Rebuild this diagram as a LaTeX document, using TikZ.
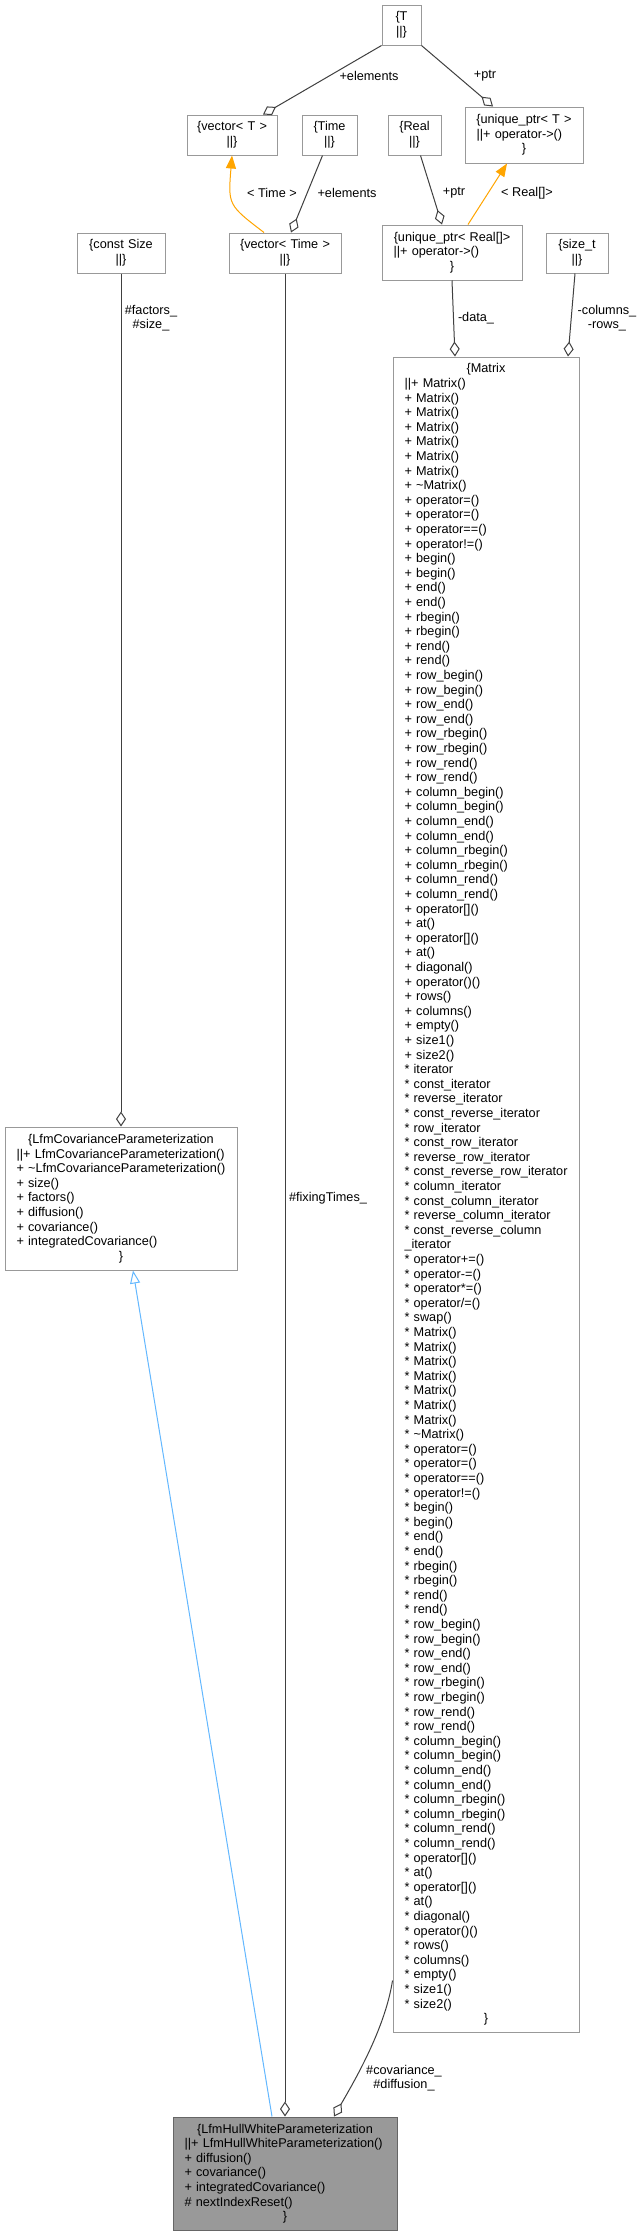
\documentclass[tikz,border=0pt]{standalone}
\usepackage{fontspec}
\setmainfont{Liberation Sans}
\usetikzlibrary{arrows.meta}

\definecolor{boxgray}{HTML}{999999}
\definecolor{edgegray}{HTML}{404040}
\definecolor{curfill}{HTML}{999999}
\definecolor{curborder}{HTML}{666666}
\definecolor{inhblue}{HTML}{63B8FF}
\definecolor{tmplorange}{HTML}{FFA500}

% one centred line, one left line of a class box
\newcommand{\cln}[1]{\makebox[\linewidth]{#1}\par}
\newcommand{\mln}[1]{\noindent\mbox{#1}\par}

\tikzset{
  classbox/.style={draw=boxgray, fill=white, line width=1pt, inner xsep=11.5pt, inner ysep=2pt, font=\fontsize{12.7pt}{14.6pt}\selectfont},
  curbox/.style={classbox, draw=curborder, fill=curfill},
  usage/.style={draw=edgegray, line width=1pt, -{Diamond[open, length=15pt, width=10pt]}},
  tmpl/.style={draw=tmplorange, line width=1pt, -{Triangle[length=13pt, width=10pt]}},
  inherit/.style={draw=inhblue, line width=1pt, -{Triangle[open, length=13pt, width=10pt]}},
  lbl/.style={font=\fontsize{12.7pt}{13.5pt}\selectfont, inner sep=0pt, align=center}
}

\begin{document}
\begin{tikzpicture}[x=1pt, y=-1pt]
	\useasboundingbox (0,0) rectangle (644,2236);
	\fill[white] (0,0) rectangle (644,2236);

	% top row
	\node[classbox, text width=16pt, minimum height=40pt] (t) at (401.5,25) {\cln{\{T}\cln{||\}}};
	\node[classbox, text width=67pt, minimum height=40pt] (vecT) at (232,135) {\cln{\{vector< T >}\cln{||\}}};
	\node[classbox, text width=32pt, minimum height=40pt] (timeC) at (329.5,135) {\cln{\{Time}\cln{||\}}};
	\node[classbox, text width=30pt, minimum height=40pt] (realC) at (414.5,135) {\cln{\{Real}\cln{||\}}};
	\node[classbox, text width=95pt, minimum height=56pt] (uptrT) at (524,135) {\cln{\{unique\_ptr< T >}\mln{||+ operator->()}\cln{\}}};

	% second row
	\node[classbox, text width=65pt, minimum height=40pt] (constSize) at (121,253) {\cln{\{const Size}\cln{||\}}};
	\node[classbox, text width=89pt, minimum height=40pt] (vecTime) at (285,253) {\cln{\{vector< Time >}\cln{||\}}};
	\node[classbox, text width=117pt, minimum height=55pt] (uptrR) at (452,252.5) {\cln{\{unique\_ptr< Real[]>}\mln{||+ operator->()}\cln{\}}};
	\node[classbox, text width=39pt, minimum height=40pt] (sizeT) at (577,253) {\cln{\{size\_t}\cln{||\}}};

	% Matrix
	\node[classbox, text width=163pt, minimum height=1675pt] (matrix) at (486,1194.5) {%
		\cln{\{Matrix}
		\mln{||+ Matrix()}
		\mln{+ Matrix()}\mln{+ Matrix()}\mln{+ Matrix()}\mln{+ Matrix()}\mln{+ Matrix()}\mln{+ Matrix()}
		\mln{+ \textasciitilde Matrix()}
		\mln{+ operator=()}\mln{+ operator=()}\mln{+ operator==()}\mln{+ operator!=()}
		\mln{+ begin()}\mln{+ begin()}\mln{+ end()}\mln{+ end()}
		\mln{+ rbegin()}\mln{+ rbegin()}\mln{+ rend()}\mln{+ rend()}
		\mln{+ row\_begin()}\mln{+ row\_begin()}\mln{+ row\_end()}\mln{+ row\_end()}
		\mln{+ row\_rbegin()}\mln{+ row\_rbegin()}\mln{+ row\_rend()}\mln{+ row\_rend()}
		\mln{+ column\_begin()}\mln{+ column\_begin()}\mln{+ column\_end()}\mln{+ column\_end()}
		\mln{+ column\_rbegin()}\mln{+ column\_rbegin()}\mln{+ column\_rend()}\mln{+ column\_rend()}
		\mln{+ operator[]()}\mln{+ at()}\mln{+ operator[]()}\mln{+ at()}
		\mln{+ diagonal()}\mln{+ operator()()}\mln{+ rows()}\mln{+ columns()}
		\mln{+ empty()}\mln{+ size1()}\mln{+ size2()}
		\mln{* iterator}\mln{* const\_iterator}\mln{* reverse\_iterator}\mln{* const\_reverse\_iterator}
		\mln{* row\_iterator}\mln{* const\_row\_iterator}\mln{* reverse\_row\_iterator}\mln{* const\_reverse\_row\_iterator}
		\mln{* column\_iterator}\mln{* const\_column\_iterator}\mln{* reverse\_column\_iterator}
		\mln{* const\_reverse\_column}\mln{\_iterator}
		\mln{* operator+=()}\mln{* operator-=()}\mln{* operator*=()}\mln{* operator/=()}
		\mln{* swap()}
		\mln{* Matrix()}\mln{* Matrix()}\mln{* Matrix()}\mln{* Matrix()}\mln{* Matrix()}\mln{* Matrix()}\mln{* Matrix()}
		\mln{* \textasciitilde Matrix()}
		\mln{* operator=()}\mln{* operator=()}\mln{* operator==()}\mln{* operator!=()}
		\mln{* begin()}\mln{* begin()}\mln{* end()}\mln{* end()}
		\mln{* rbegin()}\mln{* rbegin()}\mln{* rend()}\mln{* rend()}
		\mln{* row\_begin()}\mln{* row\_begin()}\mln{* row\_end()}\mln{* row\_end()}
		\mln{* row\_rbegin()}\mln{* row\_rbegin()}\mln{* row\_rend()}\mln{* row\_rend()}
		\mln{* column\_begin()}\mln{* column\_begin()}\mln{* column\_end()}\mln{* column\_end()}
		\mln{* column\_rbegin()}\mln{* column\_rbegin()}\mln{* column\_rend()}\mln{* column\_rend()}
		\mln{* operator[]()}\mln{* at()}\mln{* operator[]()}\mln{* at()}
		\mln{* diagonal()}\mln{* operator()()}\mln{* rows()}\mln{* columns()}
		\mln{* empty()}\mln{* size1()}\mln{* size2()}
		\cln{\}}};

	% parameterizations
	\node[classbox, text width=209pt, minimum height=143pt] (lfmCov) at (121,1198.5) {%
		\cln{\{LfmCovarianceParameterization}
		\mln{||+ LfmCovarianceParameterization()}
		\mln{+ \textasciitilde LfmCovarianceParameterization()}
		\mln{+ size()}\mln{+ factors()}\mln{+ diffusion()}\mln{+ covariance()}
		\mln{+ integratedCovariance()}
		\cln{\}}};
	\node[curbox, text width=201pt, minimum height=113pt] (lfmHW) at (285,2173.5) {%
		\cln{\{LfmHullWhiteParameterization}
		\mln{||+ LfmHullWhiteParameterization()}
		\mln{+ diffusion()}\mln{+ covariance()}\mln{+ integratedCovariance()}
		\mln{\# nextIndexReset()}
		\cln{\}}};

	% connectors
	\draw[usage] (t.south west) -- ([xshift=31pt]vecT.north);
	\draw[usage] (t.south east) -- ([xshift=-31pt]uptrT.north);
	\draw[tmpl] ([xshift=-21pt]vecTime.north) .. controls (228,205) .. (vecT.south);
	\draw[usage] ([xshift=-7pt]timeC.south) -- ([xshift=6pt]vecTime.north);
	\draw[usage] ([xshift=6pt]realC.south) -- ([xshift=-10pt]uptrR.north);
	\draw[tmpl] ([xshift=16pt]uptrR.north) -- ([xshift=-17pt]uptrT.south);
	\draw[usage] (constSize.south) -- (lfmCov.north);
	\draw[usage] (vecTime.south) -- (lfmHW.north);
	\draw[usage] (uptrR.south) -- ([xshift=-31pt]matrix.north);
	\draw[usage] ([xshift=-2pt]sizeT.south) -- ([xshift=82pt]matrix.north);
	\draw[usage] ([yshift=52pt]matrix.south west) .. controls (385,2030) and (352,2085) .. ([xshift=49pt]lfmHW.north);
	\draw[inherit] ([xshift=-13pt]lfmHW.north) -- ([xshift=12pt]lfmCov.south);

	% labels
	\node[lbl] (lblElemTop) at (369,76) {+elements};
	\node[lbl] (lblPtrTop) at (485,76) {+ptr};
	\node[lbl] (lblTimeTmpl) at (272,193) {< Time >};
	\node[lbl] (lblElemLow) at (347,193) {+elements};
	\node[lbl] (lblPtrLow) at (454,193) {+ptr};
	\node[lbl] (lblRealTmpl) at (527,193) {< Real[]>};
	\node[lbl] (lblSize) at (151,318) {\#factors\_\\\#size\_};
	\node[lbl] (lblData) at (476,318) {-data\_};
	\node[lbl] (lblCols) at (607,318) {-columns\_\\-rows\_};
	\node[lbl] (lblFixing) at (328,1198) {\#fixingTimes\_};
	\node[lbl] (lblCov) at (404,2078) {\#covariance\_\\\#diffusion\_};
\end{tikzpicture}
\end{document}
